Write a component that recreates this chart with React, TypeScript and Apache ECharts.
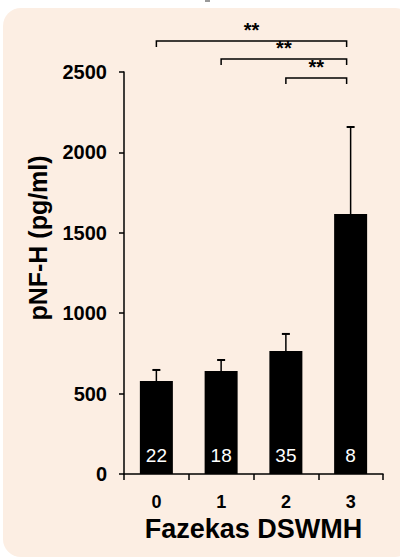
import React, { useEffect, useRef } from "react";
import * as echarts from "echarts";

const categories = ["0", "1", "2", "3"];
const means = [578, 641, 765, 1617];
const errorTops = [647, 709, 871, 2158];
const counts = ["22", "18", "35", "8"];
// [fromIndex, toIndex, yValue]
const brackets = [
  [0, 3, 2693],
  [1, 3, 2581],
  [2, 3, 2463],
];
const sigLabels = ["**", "**", "**"];
const yMin = 0;
const yMax = 2500;
const yInterval = 500;
const yTitle = "pNF-H (pg/ml)";
const xTitle = "Fazekas DSWMH";

const FONT = "'Liberation Sans', Arial, Helvetica, sans-serif";

export default function App() {
  const ref = useRef<HTMLDivElement>(null);
  useEffect(() => {
    document.body.style.margin = "0";
    const chart = echarts.init(ref.current!, undefined, { renderer: "svg" });
    chart.setOption({
      animation: false,
      backgroundColor: "transparent",
      grid: { left: 124, right: 17, top: 72, bottom: 86 },
      graphic: [
        {
          type: "text",
          x: 38,
          y: 238,
          rotation: Math.PI / 2,
          style: {
            text: yTitle,
            fill: "#000",
            fontFamily: FONT,
            fontWeight: "bold",
            fontSize: 25,
            align: "center",
            verticalAlign: "middle",
          },
        },
      ],
      xAxis: {
        type: "category",
        data: categories,
        name: xTitle,
        nameLocation: "middle",
        nameGap: 40,
        nameTextStyle: { fontFamily: FONT, fontWeight: "bold", fontSize: 27, color: "#000" },
        axisLine: { lineStyle: { color: "#000", width: 1.5 } },
        axisTick: { show: true, length: 6, lineStyle: { color: "#000", width: 1.5 } },
        axisLabel: { fontFamily: FONT, fontWeight: "bold", fontSize: 18, color: "#000", margin: 19 },
      },
      yAxis: {
        type: "value",
        min: yMin,
        max: yMax,
        interval: yInterval,
        splitLine: { show: false },
        axisLine: { show: true, lineStyle: { color: "#000", width: 1.5 } },
        axisTick: { show: true, length: 5, lineStyle: { color: "#000", width: 1.5 } },
        axisLabel: {
          fontFamily: FONT,
          fontWeight: "bold",
          fontSize: 20,
          color: "#000",
          margin: 17,
          formatter: (v: number) => String(v),
        },
      },
      series: [
        {
          type: "bar",
          data: means,
          barWidth: 33,
          itemStyle: { color: "#000" },
          label: {
            show: true,
            position: "insideBottom",
            distance: 9,
            formatter: (p: any) => counts[p.dataIndex],
            color: "#fff",
            fontFamily: FONT,
            fontSize: 19,
          },
          z: 2,
        },
        {
          type: "custom",
          clip: false,
          data: categories.map((_, i) => [i, errorTops[i], means[i]]),
          renderItem: (params: any, api: any) => {
            const x = api.value(0);
            const top = api.coord([x, api.value(1)]);
            const bot = api.coord([x, api.value(2)]);
            const cap = 4;
            return {
              type: "group",
              children: [
                {
                  type: "line",
                  shape: { x1: top[0], y1: top[1], x2: bot[0], y2: bot[1] },
                  style: { stroke: "#000", lineWidth: 1.5 },
                },
                {
                  type: "line",
                  shape: { x1: top[0] - cap, y1: top[1], x2: top[0] + cap, y2: top[1] },
                  style: { stroke: "#000", lineWidth: 2 },
                },
              ],
            };
          },
          z: 1,
        },
        {
          type: "custom",
          clip: false,
          data: brackets,
          renderItem: (params: any, api: any) => {
            const a = api.coord([api.value(0), api.value(2)]);
            const b = api.coord([api.value(1), api.value(2)]);
            const l = a[0];
            const r = b[0] - 4;
            const y = a[1];
            return {
              type: "group",
              children: [
                {
                  type: "polyline",
                  shape: { points: [[l, y + 6], [l, y], [r, y], [r, y + 6]] },
                  style: { stroke: "#000", lineWidth: 1.5, fill: null },
                },
                {
                  type: "text",
                  x: (l + r) / 2,
                  y: y - 1,
                  style: {
                    text: sigLabels[params.dataIndex],
                    fill: "#000",
                    fontFamily: FONT,
                    fontWeight: "bold",
                    fontSize: 20,
                    align: "center",
                    verticalAlign: "bottom",
                  },
                },
              ],
            };
          },
        },
      ],
    });
    return () => chart.dispose();
  }, []);

  return (
    <div style={{ position: "relative", width: 400, height: 560, background: "#fff", overflow: "hidden" }}>
      <div style={{ position: "absolute", left: 205, top: 0, width: 5, height: 2, background: "#999" }} />
      <div
        style={{
          position: "absolute",
          left: 3,
          top: 8,
          width: 410,
          height: 549,
          borderRadius: 18,
          background: "#FCEEE3",
        }}
      />
      <div ref={ref} style={{ position: "absolute", left: 0, top: 0, width: 400, height: 560 }} />
    </div>
  );
}
